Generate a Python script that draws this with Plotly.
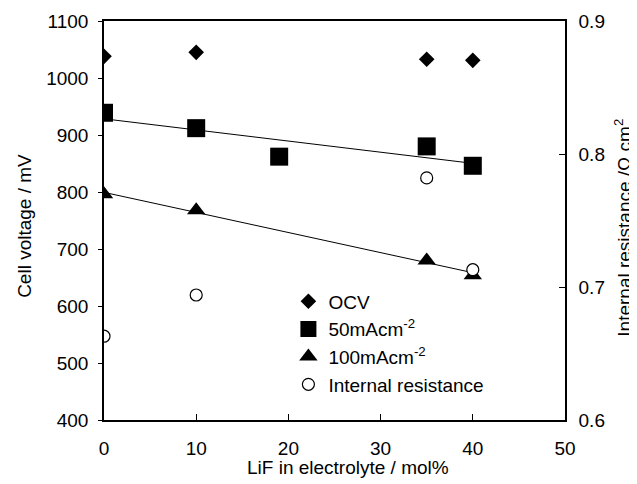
import numpy as np
import plotly.graph_objects as go

# ---- data ----
lif_ocv = [0, 10, 35, 40]
ocv = [1038, 1045, 1033, 1031]
lif_50 = [0, 10, 19, 35, 40]
v50 = [939, 912, 862, 880, 846]
lif_100 = [0, 10, 35, 40]
v100 = [796, 768, 680, 654]
lif_ir = [0, 10, 35, 40]
ir = [0.663, 0.694, 0.782, 0.713]

x_ticks = [0, 10, 20, 30, 40, 50]
y_ticks = [400, 500, 600, 700, 800, 900, 1000, 1100]
y2_ticks = [0.6, 0.7, 0.8, 0.9]

x_title = "LiF in electrolyte / mol%"
y_title = "Cell voltage / mV"
y2_title = "Internal resistance /Ω cm<sup>2</sup>"

FONT = "Liberation Sans, Arial, sans-serif"
FS = 19

# linear trend lines fitted from the data
def trend(xs, ys):
    k, b = np.polyfit(xs, ys, 1)
    xr = [min(xs), max(xs)]
    return xr, [k * v + b for v in xr]

fig = go.Figure()
tx, ty = trend(lif_50, v50)
fig.add_trace(go.Scatter(x=tx, y=ty, mode="lines", line=dict(color="black", width=1), showlegend=False, hoverinfo="skip"))
tx, ty = trend(lif_100, v100)
fig.add_trace(go.Scatter(x=tx, y=ty, mode="lines", line=dict(color="black", width=1), showlegend=False, hoverinfo="skip"))

fig.add_trace(go.Scatter(x=lif_ocv, y=ocv, mode="markers", name="OCV",
                         marker=dict(symbol="diamond", size=12, color="black", line=dict(width=0))))
fig.add_trace(go.Scatter(x=lif_50, y=v50, mode="markers", name="50mAcm<sup>-2</sup>",
                         marker=dict(symbol="square", size=18, color="black", line=dict(width=0))))
fig.add_trace(go.Scatter(x=lif_100, y=v100, mode="markers", name="100mAcm<sup>-2</sup>",
                         marker=dict(symbol="triangle-up", size=16, color="black", line=dict(width=0))))
fig.add_trace(go.Scatter(x=lif_ir, y=ir, mode="markers", name="Internal resistance", yaxis="y2",
                         marker=dict(symbol="circle", size=12, color="white", line=dict(color="black", width=1.2))))

fig.update_layout(
    width=629, height=476,
    margin=dict(l=96, r=72, t=13, b=64),
    paper_bgcolor="white", plot_bgcolor="white",
    font=dict(family=FONT, size=FS, color="black"),
    showlegend=True,
    legend=dict(x=0.4, y=0.345, xanchor="left", yanchor="top", bgcolor="rgba(0,0,0,0)",
                font=dict(size=FS), tracegroupgap=0, itemsizing="trace"),
    xaxis=dict(range=[0, 50], tickvals=x_ticks, showgrid=False, zeroline=False, automargin=False,
               showline=True, linecolor="black", linewidth=1.5, mirror=True,
               ticks="inside", ticklen=6, tickcolor="black", ticklabelstandoff=10),
    yaxis=dict(range=[400, 1100], tickvals=y_ticks, showgrid=False, zeroline=False, automargin=False,
               showline=True, linecolor="black", linewidth=1.5,
               ticks="outside", ticklen=4, tickcolor="black", ticklabelstandoff=6),
    yaxis2=dict(range=[0.6, 0.9], tickvals=y2_ticks, tickformat=".1f", overlaying="y", side="right",
                showgrid=False, zeroline=False, automargin=False,
                showline=True, linecolor="black", linewidth=1.5,
                ticks="inside", ticklen=6, tickcolor="black", ticklabelstandoff=8),
    annotations=[
        dict(text=x_title, xref="paper", yref="paper", x=0.53, y=-0.118,
             xanchor="center", yanchor="middle", showarrow=False, font=dict(size=FS)),
        dict(text=y_title, xref="paper", yref="paper", x=-0.174, y=0.486, textangle=-90,
             xanchor="center", yanchor="middle", showarrow=False, font=dict(size=FS)),
        dict(text=y2_title, xref="paper", yref="paper", x=1.125, y=0.481, textangle=-90,
             xanchor="center", yanchor="middle", showarrow=False, font=dict(size=FS)),
    ],
)

fig.write_html("out.html")
